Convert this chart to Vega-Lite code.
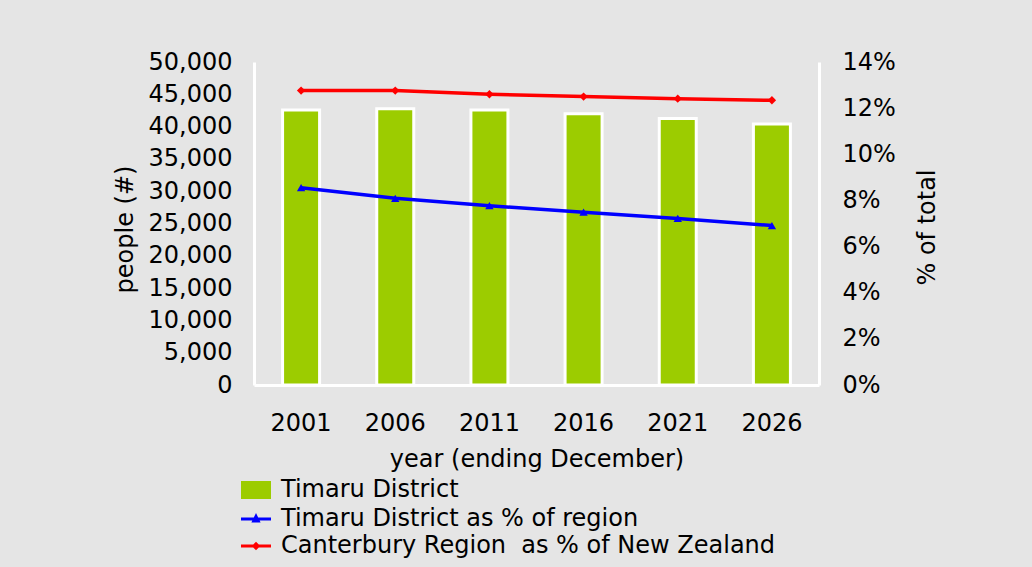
{
  "$schema": "https://vega.github.io/schema/vega-lite/v6.json",
  "width": 565,
  "height": 323,
  "autosize": {"type": "none"},
  "padding": {"left": 254, "top": 62, "right": 213, "bottom": 182},
  "background": "#e5e5e5",
  "config": {
    "view": {"stroke": null},
    "font": "DejaVu Sans",
    "axis": {
      "grid": false,
      "ticks": false,
      "domainColor": "white",
      "domainWidth": 3,
      "labelFont": "DejaVu Sans",
      "labelFontSize": 24,
      "labelColor": "black",
      "titleFont": "DejaVu Sans",
      "titleFontSize": 24,
      "titleFontWeight": "normal",
      "titleColor": "black"
    }
  },
  "data": {
    "values": [
      {"year": "2001", "series": "Timaru District", "value": 42570},
      {"year": "2006", "series": "Timaru District", "value": 42770},
      {"year": "2011", "series": "Timaru District", "value": 42570},
      {"year": "2016", "series": "Timaru District", "value": 42000},
      {"year": "2021", "series": "Timaru District", "value": 41250},
      {"year": "2026", "series": "Timaru District", "value": 40400},
      {"year": "2001", "series": "Timaru District as % of region", "value": 0.0855},
      {"year": "2006", "series": "Timaru District as % of region", "value": 0.0809},
      {"year": "2011", "series": "Timaru District as % of region", "value": 0.0777},
      {"year": "2016", "series": "Timaru District as % of region", "value": 0.0749},
      {"year": "2021", "series": "Timaru District as % of region", "value": 0.0722},
      {"year": "2026", "series": "Timaru District as % of region", "value": 0.0691},
      {"year": "2001", "series": "Canterbury Region\u00a0 as % of New Zealand", "value": 0.1276},
      {"year": "2006", "series": "Canterbury Region\u00a0 as % of New Zealand", "value": 0.1276},
      {"year": "2011", "series": "Canterbury Region\u00a0 as % of New Zealand", "value": 0.1260},
      {"year": "2016", "series": "Canterbury Region\u00a0 as % of New Zealand", "value": 0.1250},
      {"year": "2021", "series": "Canterbury Region\u00a0 as % of New Zealand", "value": 0.1241},
      {"year": "2026", "series": "Canterbury Region\u00a0 as % of New Zealand", "value": 0.1234}
    ]
  },
  "encoding": {
    "x": {
      "field": "year",
      "type": "ordinal",
      "scale": {"paddingInner": 0, "paddingOuter": 0},
      "axis": {
        "labelAngle": 0,
        "labelPadding": 26,
        "title": "year (ending December)",
        "titlePadding": 12
      }
    },
    "color": {
      "field": "series",
      "type": "nominal",
      "scale": {
        "domain": ["Timaru District", "Timaru District as % of region", "Canterbury Region\u00a0 as % of New Zealand"],
        "range": ["#9ccc00", "#0000ff", "#ff0000"]
      },
      "legend": {
        "title": null,
        "orient": "none",
        "legendX": -10,
        "legendY": 416,
        "labelFont": "DejaVu Sans",
        "labelFontSize": 24,
        "labelColor": "black",
        "labelLimit": 800,
        "symbolSize": 400,
        "symbolStrokeWidth": 3,
        "labelOffset": 13,
        "rowPadding": 3,
        "padding": 0,
        "encode": {
          "symbols": {
            "update": {
              "shape": {"signal": "datum.value === 'Timaru District' ? 'M-1.35,-0.75H1.35V0.75H-1.35Z' : (datum.value === 'Timaru District as % of region' ? 'M-1.5,0H1.5M-0.22,0.2L0,-0.25L0.22,0.2Z' : 'M-1.5,0H1.5M-0.22,0L0,-0.22L0.22,0L0,0.22Z')"},
              "fill": {"signal": "scale('color', datum.value)"},
              "stroke": {"signal": "datum.value === 'Timaru District' ? '#ffffff' : scale('color', datum.value)"},
              "strokeWidth": {"value": 3},
              "opacity": {"value": 1},
              "fillOpacity": {"value": 1},
              "strokeOpacity": {"value": 1}
            }
          }
        }
      }
    }
  },
  "layer": [
    {
      "transform": [{"filter": "datum.series === 'Timaru District'"}],
      "mark": {"type": "bar", "width": {"band": 0.393}, "stroke": "white", "strokeWidth": 3},
      "encoding": {
        "y": {
          "field": "value",
          "type": "quantitative",
          "scale": {"domain": [0, 50000], "nice": false},
          "axis": {
            "values": [0, 5000, 10000, 15000, 20000, 25000, 30000, 35000, 40000, 45000, 50000],
            "format": ",.0f",
            "labelPadding": 22,
            "title": "people (#)",
            "titleX": -129,
            "titleY": 167,
            "titleAlign": "center",
            "titleBaseline": "middle",
            "titleAngle": 270
          }
        }
      }
    },
    {
      "transform": [{"filter": "datum.series !== 'Timaru District'"}],
      "encoding": {
        "y": {
          "field": "value",
          "type": "quantitative",
          "scale": {"domain": [0, 0.14], "nice": false},
          "axis": {
            "orient": "right",
            "values": [0, 0.02, 0.04, 0.06, 0.08, 0.1, 0.12, 0.14],
            "format": ".0%",
            "labelPadding": 23,
            "title": "% of total",
            "titleAngle": 270,
            "titleX": 108,
            "titleY": 165,
            "titleAlign": "center",
            "titleBaseline": "middle"
          }
        }
      },
      "layer": [
        {"mark": {"type": "line", "strokeWidth": 3.5}},
        {
          "mark": {"type": "point", "filled": true, "opacity": 1, "size": 70},
          "encoding": {
            "shape": {
              "field": "series",
              "type": "nominal",
              "scale": {
                "domain": ["Timaru District as % of region", "Canterbury Region\u00a0 as % of New Zealand"],
                "range": ["triangle-up", "diamond"]
              },
              "legend": null
            }
          }
        }
      ]
    }
  ],
  "resolve": {"scale": {"y": "independent"}}
}
